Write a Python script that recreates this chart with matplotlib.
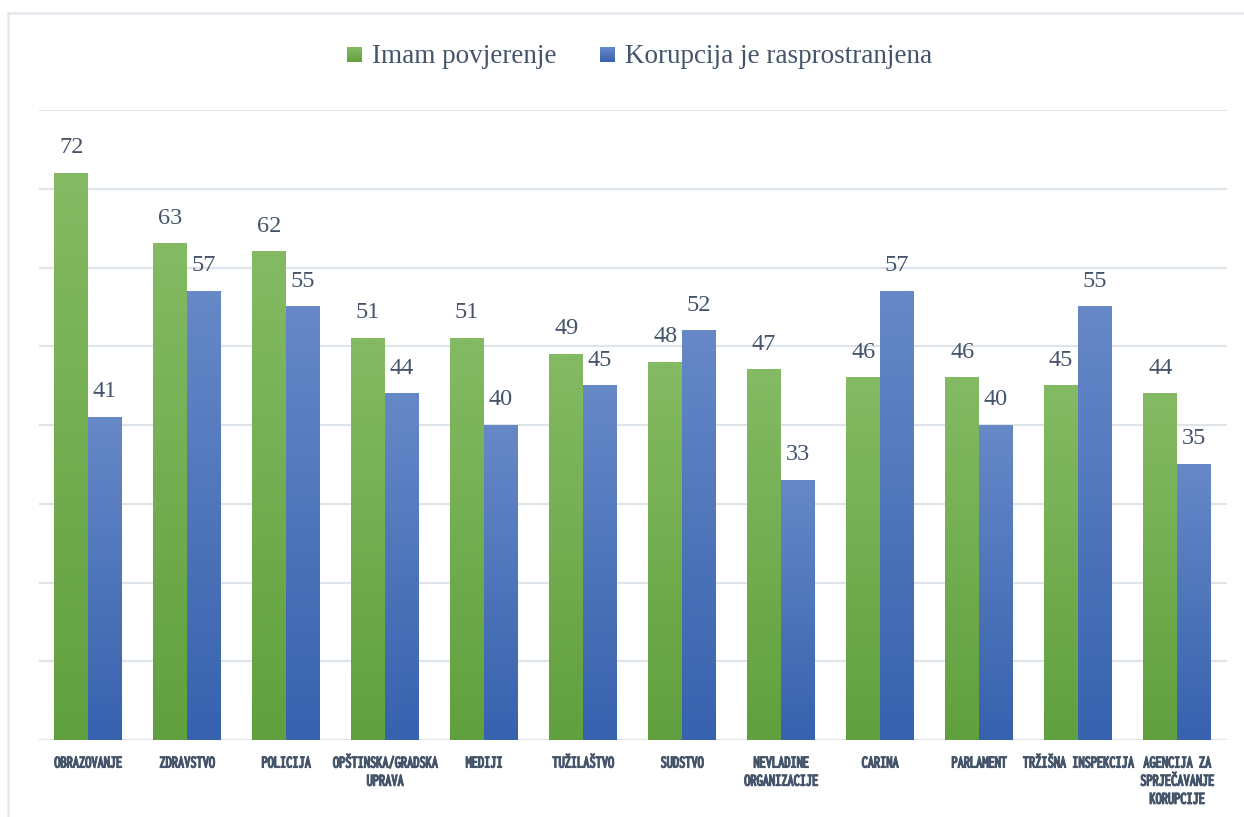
import os
import numpy as np
import matplotlib
matplotlib.use('Agg')
import matplotlib.pyplot as plt
import matplotlib.patheffects as pe
from matplotlib.lines import Line2D
from matplotlib.colors import to_rgb
from matplotlib import font_manager as fm
from matplotlib.textpath import TextPath

categories = ['OBRAZOVANJE', 'ZDRAVSTVO', 'POLICIJA', 'OPŠTINSKA/GRADSKA\nUPRAVA', 'MEDIJI',
              'TUŽILAŠTVO', 'SUDSTVO', 'NEVLADINE\nORGANIZACIJE', 'CARINA', 'PARLAMENT',
              'TRŽIŠNA INSPEKCIJA', 'AGENCIJA ZA\nSPRJEČAVANJE\nKORUPCIJE']
povjerenje = [72, 63, 62, 51, 51, 49, 48, 47, 46, 46, 45, 44]
korupcija = [41, 57, 55, 44, 40, 45, 52, 33, 57, 40, 55, 35]
series_names = ['Imam povjerenje', 'Korupcija je rasprostranjena']

text_col = '#44546A'
grid_col = '#DFE4EA'
green_top, green_bot = '#84BA63', '#61A03E'
blue_top, blue_bot = '#6688C7', '#3762AE'

W, H = 1244, 817


# find a bold condensed font for the category labels (reference uses a narrow display face)
def pick_label_font():
    best = None
    opts = [fm.FontProperties(family='DejaVu Sans', weight='bold')]
    for f in fm.fontManager.ttflist:
        n = (f.name + ' ' + os.path.basename(f.fname)).lower()
        cond = any(k in n for k in ('condensed', 'narrow', 'compressed')) or \
            f.stretch in ('condensed', 'semi-condensed', 'extra-condensed', 'ultra-condensed')
        wt = f.weight if isinstance(f.weight, int) else fm.weight_dict.get(f.weight, 400)
        if cond and wt >= 600 and f.style == 'normal' and 'italic' not in n:
            opts.append(fm.FontProperties(fname=f.fname))
    for fp in opts:
        try:
            cap = TextPath((0, 0), 'H', size=1, prop=fp).get_extents().height
            wd = TextPath((0, 0), 'OBRAZOVANJE', size=1, prop=fp).get_extents().width
        except Exception:
            continue
        score = abs(wd / cap - 65 / 11)
        if best is None or score < best[0]:
            best = (score, fp, cap, wd)
    _, fp, cap, wd = best
    size_px = min(11 / cap, 72 / wd)
    return fp, size_px


label_fp, label_px = pick_label_font()
label_fp.set_size(label_px * 72 / 100)

fig = plt.figure(figsize=(W / 100, H / 100), dpi=100)
ax = fig.add_axes([38.5 / W, 77 / H, 1188 / W, 630 / H])

# chart frame (light border, cut at right/bottom)
fig.add_artist(Line2D([8 / W, 1], [1 - 13 / H, 1 - 13 / H], color='#E2E7EC', lw=1.8))
fig.add_artist(Line2D([8 / W, 8 / W], [0, 1 - 13 / H], color='#E2E7EC', lw=1.8))


def grad_img(top, bot):
    c0, c1 = np.array(to_rgb(top)), np.array(to_rgb(bot))
    t = np.linspace(0, 1, 64)[:, None]
    return (c0 * (1 - t) + c1 * t)[:, None, :]


def grad_bar(x0, x1, h, top, bot):
    ax.imshow(grad_img(top, bot), extent=[x0, x1, 0, h], aspect='auto', zorder=3,
              interpolation='bilinear')


x = np.arange(len(categories))
bw = 0.34
for i in x:
    grad_bar(i - bw, i, povjerenje[i], green_top, green_bot)
    grad_bar(i, i + bw, korupcija[i], blue_top, blue_bot)
    ax.text(i - bw / 2, povjerenje[i] + 1.9, str(povjerenje[i]), ha='center', va='bottom',
            fontsize=17.5, color=text_col, family='Liberation Serif')
    ax.text(i + bw / 2, korupcija[i] + 1.9, str(korupcija[i]), ha='center', va='bottom',
            fontsize=17.5, color=text_col, family='Liberation Serif')

ax.set_xlim(-0.5, len(categories) - 0.5)
ax.set_ylim(0, 80)
ax.set_yticks(np.arange(0, 81, 10))
ax.yaxis.grid(True, color=grid_col, lw=1.6)
ax.set_axisbelow(True)
ax.tick_params(axis='y', left=False, labelleft=False)
ax.tick_params(axis='x', bottom=False, pad=7)
ax.set_xticks(x)
ax.set_xticklabels(categories, fontproperties=label_fp, color=text_col,
                   linespacing=19 / (0.924 * label_px), va='top')
for lbl in ax.get_xticklabels():
    lbl.set_path_effects([pe.withStroke(linewidth=0.7, foreground=text_col)])
for s in ax.spines.values():
    s.set_visible(False)
ax.axhline(0, color=grid_col, lw=2.2, zorder=2)

# legend drawn by hand to match the reference placement
for (mx, tx), name, top, bot in zip([(347, 372), (600, 625)], series_names,
                                    [green_top, blue_top], [green_bot, blue_bot]):
    lax = fig.add_axes([mx / W, 1 - 62 / H, 15 / W, 15 / H])
    lax.imshow(grad_img(top, bot), aspect='auto', extent=[0, 1, 0, 1])
    lax.set_axis_off()
    fig.text(tx / W, 1 - 63 / H, name, ha='left', va='baseline', fontsize=19.5,
             color=text_col, family='Liberation Serif')

fig.savefig('out.png', dpi=100, facecolor='white')
